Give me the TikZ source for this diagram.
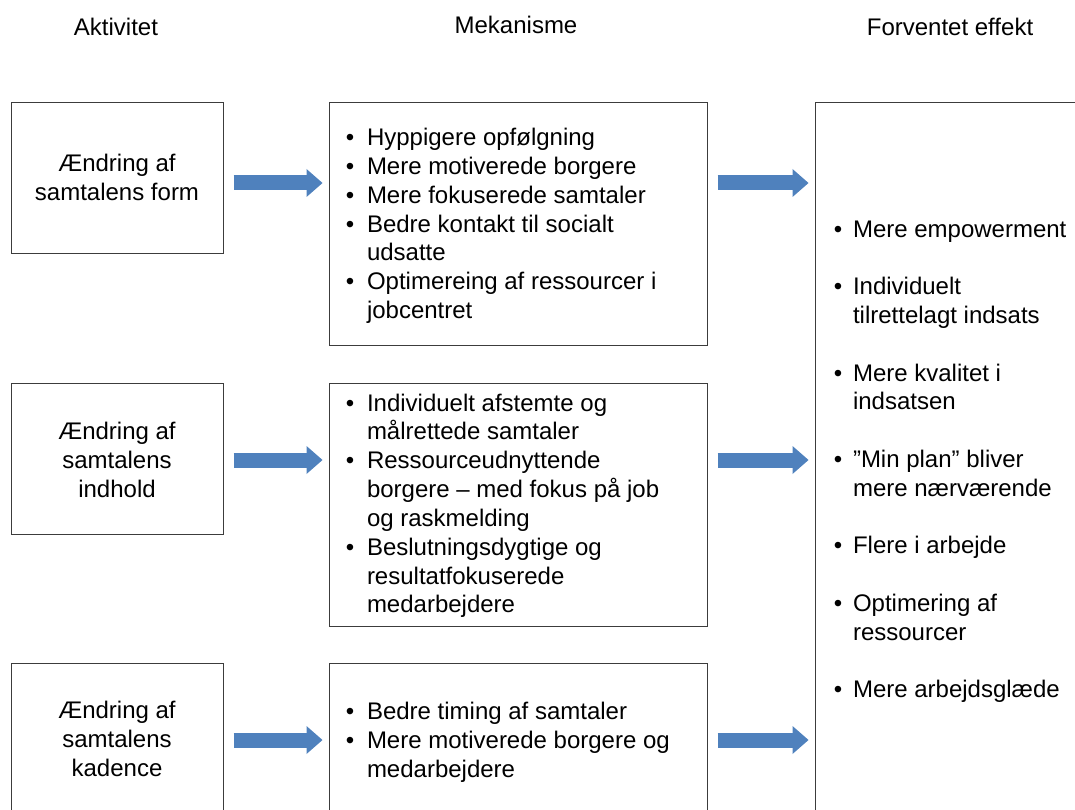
\documentclass[tikz,border=0pt]{standalone}
\usepackage{fontspec}
\setmainfont{Liberation Sans}
\usetikzlibrary{arrows.meta}
\definecolor{flowblue}{HTML}{4F81BD}
\definecolor{frame}{HTML}{3C3C3C}

% multi-line blocks whose baseline is that of their first line
\newcommand{\leftlines}[1]{\begin{tabular}[t]{@{}l@{}}#1\end{tabular}}
\newcommand{\midlines}[1]{\begin{tabular}[t]{@{}c@{}}#1\end{tabular}}

\begin{document}
\begin{tikzpicture}[x=1pt,y=-1pt,
  box/.style={draw=frame, line width=1.2pt, rectangle, inner sep=0pt, anchor=north west},
  txt/.style={font=\fontsize{24}{28.85}\selectfont, inner sep=0pt, outer sep=0pt},
  item/.style={txt, anchor=base west},
  dot/.style={txt, anchor=base},
  label/.style={txt, anchor=base},
  flow/.style={draw=flowblue, line width=15pt,
    -{Triangle[width=28pt,length=16pt,line width=0pt]},
    shorten <=9.5pt, shorten >=6.5pt}
]
\useasboundingbox (0,0) rectangle (1075,810);
\clip (0,0) rectangle (1075,810);

% column headings
\node[label] (h1) at (116,35.3) {Aktivitet};
\node[label] (h2) at (516,33.5) {Mekanisme};
\node[label] (h3) at (950,35.3) {Forventet effekt};

% activity boxes
\node[box, minimum width=212pt, minimum height=151pt] (A1) at (11,102) {};
\node[box, minimum width=212pt, minimum height=151pt] (A2) at (11,383) {};
\node[box, minimum width=212pt, minimum height=170pt] (A3) at (11,663) {};

% mechanism boxes
\node[box, minimum width=378pt, minimum height=243pt] (M1) at (329,102) {};
\node[box, minimum width=378pt, minimum height=243pt] (M2) at (329,383) {};
\node[box, minimum width=378pt, minimum height=170pt] (M3) at (329,663) {};

% effect box
\node[box, minimum width=290pt, minimum height=740pt] (E) at (815,102) {};

% activity texts
\node[label] (a1t) at (117,172) {\midlines{Ændring af\\samtalens form}};
\node[label] (a2t) at (117,439.3) {\midlines{Ændring af\\samtalens\\indhold}};
\node[label] (a3t) at (117,718.5) {\midlines{Ændring af\\samtalens\\kadence}};

% mechanism texts, box 1
\node[dot] (m1b1) at (350,145.5) {•};
\node[item] (m1i1) at (367,145.5) {Hyppigere opfølgning};
\node[dot] (m1b2) at (350,174.35) {•};
\node[item] (m1i2) at (367,174.35) {Mere motiverede borgere};
\node[dot] (m1b3) at (350,203.2) {•};
\node[item] (m1i3) at (367,203.2) {Mere fokuserede samtaler};
\node[dot] (m1b4) at (350,232.05) {•};
\node[item] (m1i4) at (367,232.05) {\leftlines{Bedre kontakt til socialt\\udsatte}};
\node[dot] (m1b5) at (350,289.75) {•};
\node[item] (m1i5) at (367,289.75) {\leftlines{Optimereing af ressourcer i\\jobcentret}};

% mechanism texts, box 2
\node[dot] (m2b1) at (350,411) {•};
\node[item] (m2i1) at (367,411) {\leftlines{Individuelt afstemte og\\målrettede samtaler}};
\node[dot] (m2b2) at (350,468.7) {•};
\node[item] (m2i2) at (367,468.7) {\leftlines{Ressourceudnyttende\\borgere – med fokus på job\\og raskmelding}};
\node[dot] (m2b3) at (350,555.25) {•};
\node[item] (m2i3) at (367,555.25) {\leftlines{Beslutningsdygtige og\\resultatfokuserede\\medarbejdere}};

% mechanism texts, box 3
\node[dot] (m3b1) at (350,719.5) {•};
\node[item] (m3i1) at (367,719.5) {Bedre timing af samtaler};
\node[dot] (m3b2) at (350,748.35) {•};
\node[item] (m3i2) at (367,748.35) {\leftlines{Mere motiverede borgere og\\medarbejdere}};

% effect texts
\node[dot] (eb1) at (838,237) {•};
\node[item] (ei1) at (853,237) {Mere empowerment};
\node[dot] (eb2) at (838,294.6) {•};
\node[item] (ei2) at (853,294.6) {\leftlines{Individuelt\\tilrettelagt indsats}};
\node[dot] (eb3) at (838,381) {•};
\node[item] (ei3) at (853,381) {\leftlines{Mere kvalitet i\\indsatsen}};
\node[dot] (eb4) at (838,467.4) {•};
\node[item] (ei4) at (853,467.4) {\leftlines{”Min plan” bliver\\mere nærværende}};
\node[dot] (eb5) at (838,553.8) {•};
\node[item] (ei5) at (853,553.8) {Flere i arbejde};
\node[dot] (eb6) at (838,611.4) {•};
\node[item] (ei6) at (853,611.4) {\leftlines{Optimering af\\ressourcer}};
\node[dot] (eb7) at (838,697.8) {•};
\node[item] (ei7) at (853,697.8) {Mere arbejdsglæde};

% arrow rows
\coordinate (r1) at (0,183);
\coordinate (r2) at (0,460);
\coordinate (r3) at (0,740);

\draw[flow] (A1.east |- r1) -- (M1.west |- r1);
\draw[flow] (A2.east |- r2) -- (M2.west |- r2);
\draw[flow] (A3.east |- r3) -- (M3.west |- r3);
\draw[flow] (M1.east |- r1) -- (E.west |- r1);
\draw[flow] (M2.east |- r2) -- (E.west |- r2);
\draw[flow] (M3.east |- r3) -- (E.west |- r3);
\end{tikzpicture}
\end{document}
